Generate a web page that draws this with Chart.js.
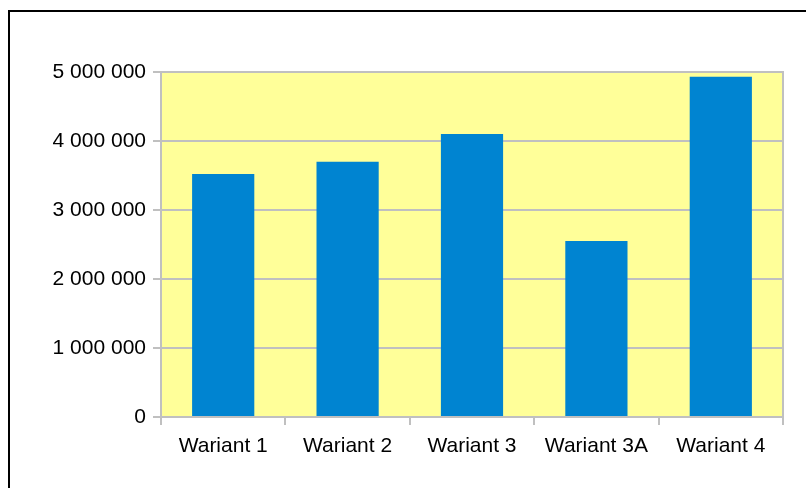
<!DOCTYPE html>
<html>
<head>
<meta charset="utf-8">
<script src="https://cdn.jsdelivr.net/npm/chart.js@4"></script>
<style>
  body { margin: 0; background: #fff; }
  #wrap { width: 806px; height: 488px; position: relative; }
</style>
</head>
<body>
<div id="wrap"><canvas id="myChart" width="806" height="488"></canvas></div>
<script>
'use strict';

var categories = ['Wariant 1', 'Wariant 2', 'Wariant 3', 'Wariant 3A', 'Wariant 4'];
var values = [3520000, 3700000, 4100000, 2550000, 4930000];
var yTicks = [0, 1000000, 2000000, 3000000, 4000000, 5000000];

var gridGrey = '#c0c0c0';

// spaces as thousands separator, like "5 000 000"
function spaced(v) {
    return String(v).replace(/\B(?=(\d{3})+(?!\d))/g, ' ');
}

// yellow plot area, grey frame round it, black frame round the picture
var frames = {
    id: 'frames',
    beforeDraw: function (chart) {
        var c = chart.ctx;
        var a = chart.chartArea;
        c.save();
        c.fillStyle = '#ffff99';
        c.fillRect(a.left, a.top, a.right - a.left, a.bottom - a.top);
        c.restore();
    },
    afterDraw: function (chart) {
        var c = chart.ctx;
        var a = chart.chartArea;
        c.save();
        c.strokeStyle = gridGrey;
        c.lineWidth = 2;
        c.strokeRect(a.left, a.top, a.right - a.left, a.bottom - a.top);
        c.strokeStyle = '#000';
        c.lineWidth = 2;
        c.strokeRect(9, 11, 820, 500);
        c.restore();
    }
};

var ctx = document.getElementById('myChart').getContext('2d');
var chart = new Chart(ctx, {
    type: 'bar',
    data: {
        labels: categories,
        datasets: [{
            data: values,
            backgroundColor: '#0084d1',
            borderWidth: 0,
            barPercentage: 0.5,
            categoryPercentage: 1
        }]
    },
    plugins: [frames],
    options: {
        responsive: false,
        animation: false,
        layout: { padding: { left: 0, top: 72, right: 23, bottom: 0 } },
        plugins: { legend: { display: false }, tooltip: { enabled: false } },
        scales: {
            x: {
                offset: true,
                grid: { offset: true, drawOnChartArea: false, drawTicks: true, tickLength: 8, color: gridGrey, lineWidth: 2 },
                border: { color: gridGrey, width: 2 },
                ticks: { color: '#000', padding: 9, font: { family: 'Liberation Sans', size: 21 } },
                afterFit: function (scale) { scale.height = 71; }
            },
            y: {
                min: 0,
                max: 5000000,
                afterBuildTicks: function (scale) {
                    scale.ticks = yTicks.map(function (v) { return { value: v }; });
                },
                grid: { color: gridGrey, lineWidth: 2, tickLength: 8 },
                border: { color: gridGrey, width: 2 },
                ticks: {
                    color: '#000',
                    padding: 7,
                    font: { family: 'Liberation Sans', size: 21 },
                    callback: function (v) { return spaced(v); }
                },
                afterFit: function (scale) { scale.width = 161; }
            }
        }
    }
});
</script>
</body>
</html>
